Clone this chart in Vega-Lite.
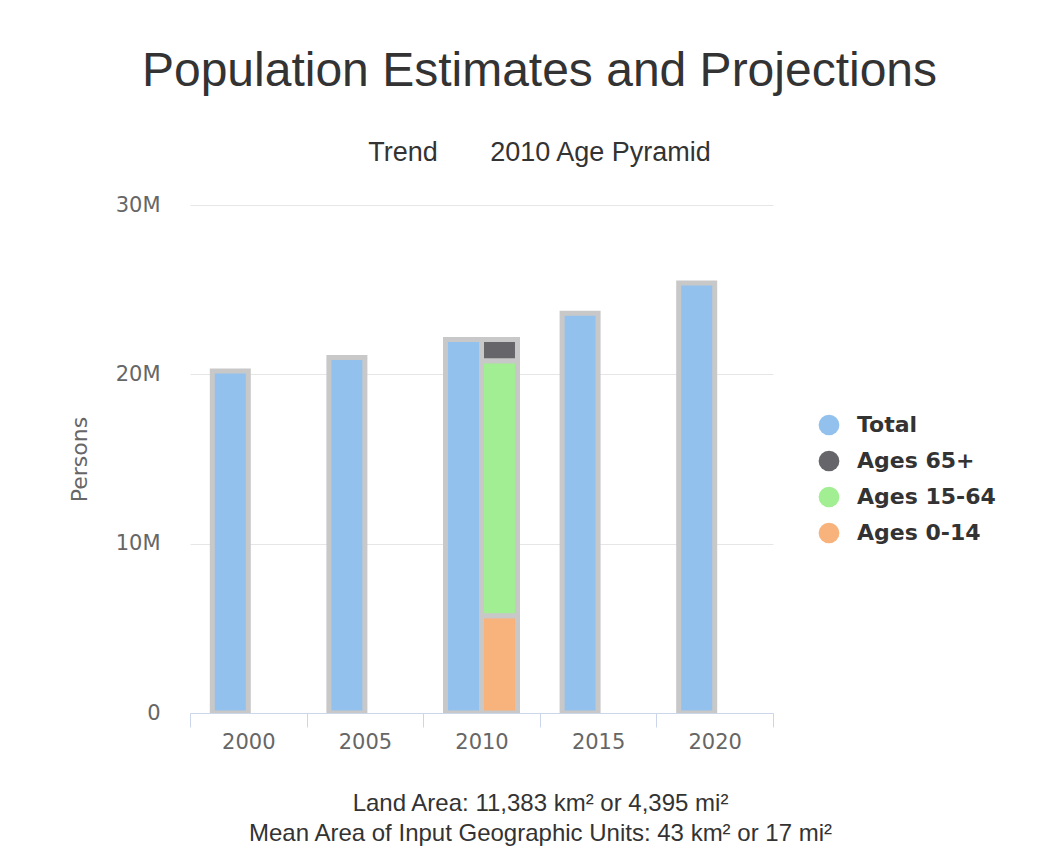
{
  "$schema": "https://vega.github.io/schema/vega-lite/v6.json",
  "width": 583,
  "height": 508,
  "autosize": {"type": "none"},
  "padding": {"left": 190, "top": 205, "right": 277, "bottom": 152},
  "background": "white",
  "config": {"view": {"stroke": null}},
  "title": {
    "text": "Population Estimates and Projections",
    "subtitle": "Trend\u00a0\u00a0\u00a0\u00a0\u00a0\u00a0\u00a02010 Age Pyramid",
    "font": "Liberation Sans",
    "fontSize": 48,
    "fontWeight": "normal",
    "color": "#333333",
    "subtitleFont": "Liberation Sans",
    "subtitleFontSize": 27,
    "subtitleColor": "#333333",
    "anchor": "middle",
    "frame": "group",
    "dx": 58,
    "offset": 28,
    "subtitlePadding": 44
  },
  "data": {
    "values": [
      {"year": "2000", "group": "Total", "series": "Total", "value": 20200000},
      {"year": "2005", "group": "Total", "series": "Total", "value": 21000000},
      {"year": "2010", "group": "Total", "series": "Total", "value": 22050000},
      {"year": "2015", "group": "Total", "series": "Total", "value": 23600000},
      {"year": "2020", "group": "Total", "series": "Total", "value": 25400000},
      {"year": "2010", "group": "Ages", "series": "Ages 0-14", "value": 5750000},
      {"year": "2010", "group": "Ages", "series": "Ages 15-64", "value": 15050000},
      {"year": "2010", "group": "Ages", "series": "Ages 65+", "value": 1250000}
    ]
  },
  "encoding": {
    "x": {
      "field": "year",
      "type": "ordinal",
      "scale": {"paddingInner": 0, "paddingOuter": 0},
      "axis": {
        "title": ["Land Area: 11,383 km² or 4,395 mi²", "Mean Area of Input Geographic Units: 43 km² or 17 mi²"],
        "labelAngle": 0,
        "tickBand": "extent",
        "tickSize": 14,
        "tickColor": "#ccd6eb",
        "domainColor": "#ccd6eb",
        "labelFont": "DejaVu Sans",
        "labelFontSize": 21,
        "labelColor": "#666666",
        "labelPadding": 4,
        "titleFont": "Liberation Sans",
        "titleFontSize": 24,
        "titleFontWeight": "normal",
        "titleColor": "#333333",
        "titleLineHeight": 30,
        "titleBaseline": "alphabetic",
        "titleX": 350,
        "titleY": 97
      }
    },
    "xOffset": {
      "field": "group",
      "type": "nominal",
      "scale": {"domain": ["Total", "Ages"], "paddingInner": 0, "paddingOuter": 0.62}
    },
    "color": {
      "field": "series",
      "type": "nominal",
      "scale": {
        "domain": ["Total", "Ages 65+", "Ages 15-64", "Ages 0-14"],
        "range": ["#93c1ee", "#65656a", "#a2ee93", "#f8b27b"]
      },
      "legend": {
        "orient": "none",
        "legendX": 628,
        "legendY": 209,
        "title": null,
        "symbolType": "circle",
        "symbolSize": 430,
        "symbolStrokeWidth": 0,
        "symbolOpacity": 1,
        "labelFont": "DejaVu Sans",
        "labelFontWeight": "bold",
        "labelFontSize": 22,
        "labelColor": "#333333",
        "rowPadding": 14,
        "labelOffset": 17
      }
    }
  },
  "layer": [
    {
      "transform": [{"filter": "datum.series === 'Total'"}],
      "mark": {"type": "bar", "stroke": "#c8c8c8", "strokeWidth": 5, "clip": true},
      "encoding": {
        "y": {
          "field": "value",
          "type": "quantitative",
          "stack": null,
          "scale": {"domain": [0, 30000000], "nice": false},
          "axis": {
            "title": "Persons",
            "values": [0, 10000000, 20000000, 30000000],
            "labelExpr": "datum.value === 0 ? '0' : format(datum.value, '~s')",
            "domain": false,
            "ticks": false,
            "gridColor": "#e6e6e6",
            "labelFont": "DejaVu Sans",
            "labelFontSize": 21,
            "labelColor": "#666666",
            "labelPadding": 30,
            "titleFont": "DejaVu Sans",
            "titleFontSize": 22,
            "titleFontWeight": "normal",
            "titleColor": "#666666",
            "titlePadding": 24
          }
        }
      }
    },
    {
      "transform": [{"filter": "datum.series !== 'Total'"}],
      "mark": {"type": "bar", "stroke": "#c8c8c8", "strokeWidth": 5, "clip": true},
      "encoding": {
        "y": {
          "field": "value",
          "type": "quantitative",
          "stack": "zero"
        },
        "order": {"field": "series", "sort": "ascending"}
      }
    }
  ]
}
